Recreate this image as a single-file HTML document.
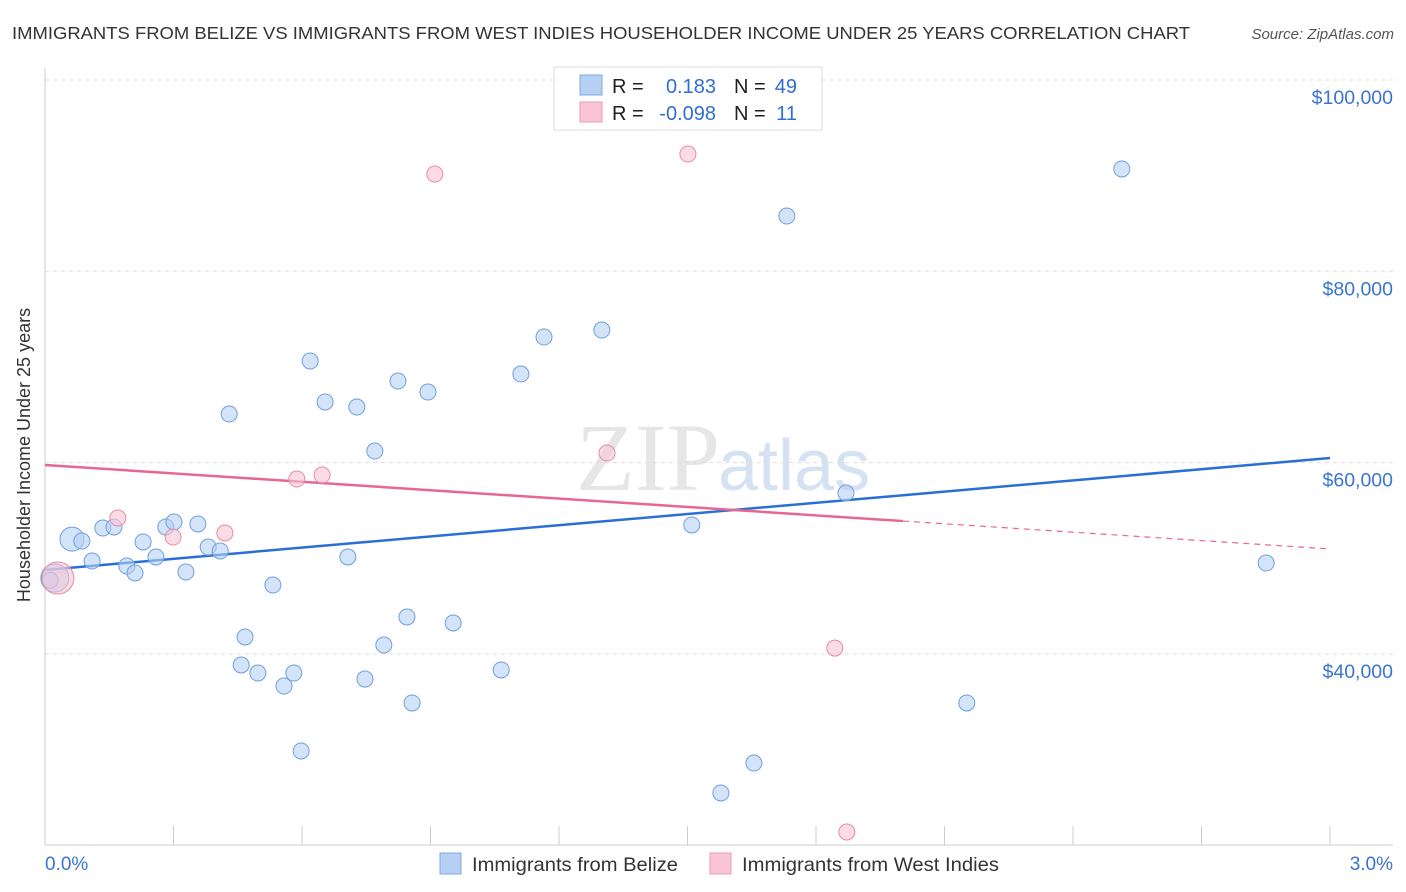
<!DOCTYPE html>
<html><head><meta charset="utf-8"><style>
body{margin:0;background:#fff;font-family:"Liberation Sans",sans-serif;}
svg{display:block}
</style></head><body>
<svg id="chart" width="1406" height="892" xmlns="http://www.w3.org/2000/svg">
<text x="12" y="39" font-size="17.5" fill="#333" textLength="1178" lengthAdjust="spacingAndGlyphs">IMMIGRANTS FROM BELIZE VS IMMIGRANTS FROM WEST INDIES HOUSEHOLDER INCOME UNDER 25 YEARS CORRELATION CHART</text>
<text x="1394" y="39" font-size="15" font-style="italic" fill="#555" text-anchor="end">Source: ZipAtlas.com</text>
<text x="720" y="490" font-size="96" fill="#e6e6e6" font-family="Liberation Serif,serif" text-anchor="end">ZIP</text>
<text x="718" y="490" font-size="72" fill="#d5e2f4">atlas</text>
<g id="grid"></g><g id="axes"></g><g id="lines"></g><g id="pts"></g>
<text x="30" y="455" font-size="18" fill="#333" text-anchor="middle" transform="rotate(-90 30 455)">Householder Income Under 25 years</text>
<g>
<rect x="554" y="67" width="268" height="63" fill="#fff" stroke="#ddd"/>
<rect x="580" y="75" width="22" height="20" fill="#b6d0f3" stroke="#7fa8e3"/>
<rect x="580" y="102" width="22" height="20" fill="#f9c5d4" stroke="#eb9ab4"/>
<text x="612" y="93" font-size="20" fill="#222">R =</text><text x="716" y="93" font-size="20" fill="#2f6fd1" text-anchor="end">0.183</text>
<text x="734" y="93" font-size="20" fill="#222">N =</text><text x="797" y="93" font-size="20" fill="#2f6fd1" text-anchor="end">49</text>
<text x="612" y="120" font-size="20" fill="#222">R =</text><text x="716" y="120" font-size="20" fill="#2f6fd1" text-anchor="end">-0.098</text>
<text x="734" y="120" font-size="20" fill="#222">N =</text><text x="797" y="120" font-size="20" fill="#2f6fd1" text-anchor="end">11</text>
</g>
<g>
<rect x="440" y="853" width="21" height="21" fill="#b6d0f3" stroke="#7fa8e3"/>
<text x="472" y="871" font-size="19.5" fill="#333" textLength="206" lengthAdjust="spacingAndGlyphs">Immigrants from Belize</text>
<rect x="710" y="853" width="21" height="21" fill="#f9c5d4" stroke="#eb9ab4"/>
<text x="742" y="871" font-size="19.5" fill="#333" textLength="257" lengthAdjust="spacingAndGlyphs">Immigrants from West Indies</text>
</g>
</svg>
<script>
const xTicks=[0,0.3,0.6,0.9,1.2,1.5,1.8,2.1,2.4,2.7,3.0];
const yTicks=[40000,60000,80000,100000];
const yTickLabels=["$40,000","$60,000","$80,000","$100,000"];
const blueX=[0.023,0.063,0.086,0.110,0.135,0.161,0.191,0.210,0.229,0.259,0.282,0.301,0.329,0.357,0.381,0.409,0.430,0.458,0.467,0.497,0.532,0.558,0.581,0.598,0.619,0.654,0.707,0.728,0.747,0.770,0.791,0.824,0.845,0.857,0.894,0.953,1.065,1.111,1.165,1.300,1.510,1.578,1.655,1.732,1.870,2.152,2.514,2.851,0.012];
const blueY=[47930,52000,51800,49710,53160,53270,49190,48460,51700,50130,53270,53790,48560,53580,51170,50760,65080,38840,41770,38000,47200,36640,38000,29850,70620,66340,50130,65810,37370,61210,40930,68530,43860,34870,67380,43230,38320,69260,73130,73860,53480,25460,28590,85780,56820,34870,90700,49500,47700];
const blueR=[14,12,8,8,8,8,8,8,8,8,8,8,8,8,8,8,8,8,8,8,8,8,8,8,8,8,8,8,8,8,8,8,8,8,8,8,8,8,8,8,8,8,8,8,8,8,8,8,8];
const pinkX=[0.030,0.170,0.299,0.420,0.588,0.647,0.910,1.312,1.501,1.844,1.872];
const pinkY=[47930,54210,52220,52640,58280,58700,90170,61000,92260,40610,21380];
const pinkR=[16,8,8,8,8,8,8,8,8,8,8];
const blueTrend=[48770,60480];
const pinkTrend=[59750,50970];
const pinkSolidEnd=2.003;
const X=v=>45+v/3*1285;
const Y=v=>80+(100000-v)*191.3/20000;
const NS="http://www.w3.org/2000/svg";
function mk(t,a,p){const e=document.createElementNS(NS,t);for(const k in a)e.setAttribute(k,a[k]);p.appendChild(e);return e;}
const grid=document.getElementById('grid'),axes=document.getElementById('axes'),lines=document.getElementById('lines'),pts=document.getElementById('pts');
yTicks.forEach((v,i)=>{
 const l=mk('line',{x1:45,x2:1393,y1:Y(v),y2:Y(v),stroke:'#ddd','stroke-dasharray':'4,4'},grid);
 
 
 const t=mk('text',{x:1393,y:Y(v)+24,'font-size':19.5,fill:'#3a74d0','text-anchor':'end'},axes);
 t.textContent=yTickLabels[i];
 
 
});
const ya=mk('line',{x1:45,x2:45,y1:68,y2:845,stroke:'#ccc'},axes);


const xa=mk('line',{x1:45,x2:1393,y1:845,y2:845,stroke:'#ccc'},axes);


xTicks.forEach(v=>{const t=mk('line',{x1:X(v),x2:X(v),y1:826,y2:845,stroke:'#ccc'},axes);
 
 });
const xl0=mk('text',{x:45,y:870,'font-size':19,fill:'#3a74d0'},axes);xl0.textContent=xTicks[0].toFixed(1)+'%';


const xl1=mk('text',{x:1393,y:870,'font-size':19,fill:'#3a74d0','text-anchor':'end'},axes);xl1.textContent=xTicks[xTicks.length-1].toFixed(1)+'%';


function dot(x,y,r,f,s,n){const c=mk('circle',{cx:X(x),cy:Y(y),r:r,fill:f,'fill-opacity':0.6,stroke:s,'stroke-width':1},pts);
 
 }
blueX.forEach((x,i)=>dot(x,blueY[i],blueR[i],'#b6d0f3','#6f9fe0','belize-point'));
pinkX.forEach((x,i)=>dot(x,pinkY[i],pinkR[i],'#f9c5d4','#e88aa8','west-indies-point'));
const bl=mk('line',{x1:X(0),y1:Y(blueTrend[0]),x2:X(3),y2:Y(blueTrend[1]),stroke:'#2a6fd6','stroke-width':2.5},lines);


const pAt=x=>pinkTrend[0]+(pinkTrend[1]-pinkTrend[0])*x/3;
const pl=mk('line',{x1:X(0),y1:Y(pinkTrend[0]),x2:X(pinkSolidEnd),y2:Y(pAt(pinkSolidEnd)),stroke:'#e8678f','stroke-width':2.5},lines);


const pd=mk('line',{x1:X(pinkSolidEnd),y1:Y(pAt(pinkSolidEnd)),x2:X(3),y2:Y(pinkTrend[1]),stroke:'#e8678f','stroke-width':1.2,'stroke-dasharray':'6,5'},lines);


</script>
</body></html>
